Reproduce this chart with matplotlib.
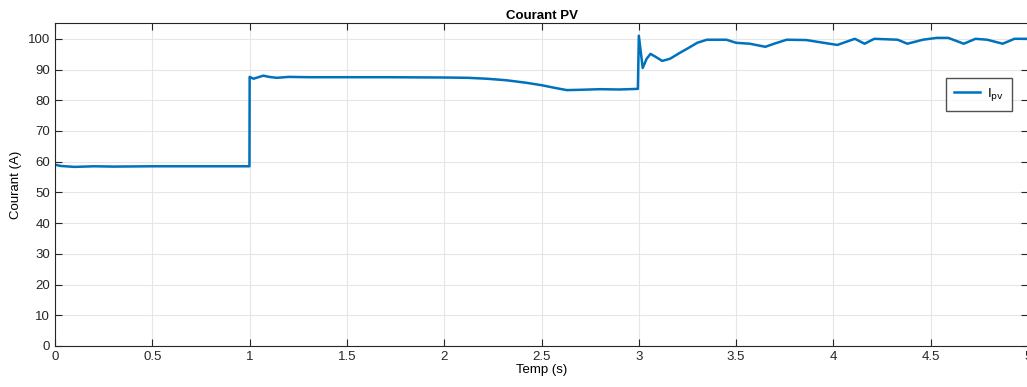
import matplotlib.pyplot as plt

plt.rcParams['font.family'] = ['Liberation Sans', 'DejaVu Sans']

# values
temps = [0, 0.03, 0.1, 0.2, 0.3, 0.5, 0.7, 0.9, 0.999,
         1.0, 1.02, 1.04, 1.07, 1.1, 1.14, 1.2, 1.3, 1.5, 1.7, 2.0, 2.12, 2.22, 2.32,
         2.42, 2.5, 2.57, 2.63, 2.7, 2.8, 2.9, 2.995,
         3.0, 3.02, 3.04, 3.06, 3.09, 3.12, 3.16, 3.21, 3.26, 3.3, 3.35, 3.45, 3.5,
         3.57, 3.65, 3.7, 3.76, 3.86, 3.93,
         4.02, 4.11, 4.16, 4.21, 4.33, 4.38, 4.46, 4.53, 4.59, 4.67, 4.73, 4.79,
         4.87, 4.93, 5.0]
courant = [59.0, 58.6, 58.3, 58.5, 58.4, 58.5, 58.5, 58.5, 58.5,
           87.6, 87.0, 87.4, 88.0, 87.6, 87.3, 87.6, 87.5, 87.5, 87.5, 87.4, 87.3, 87.0, 86.5,
           85.7, 84.9, 84.0, 83.3, 83.4, 83.6, 83.5, 83.7,
           101.0, 90.5, 93.5, 95.1, 94.0, 92.8, 93.5, 95.4, 97.2, 98.7, 99.7, 99.7, 98.7,
           98.4, 97.4, 98.5, 99.7, 99.6, 98.9,
           98.0, 100.0, 98.4, 100.0, 99.7, 98.4, 99.7, 100.3, 100.3, 98.4, 100.0, 99.7,
           98.4, 100.0, 100.0]

fig = plt.figure(figsize=(10.27, 3.87), dpi=100)
ax = fig.add_axes([0.0536, 0.106, 0.9474, 0.835])
ax.plot(temps, courant, color='#0072BD', lw=1.8, label='I$_{\\rm pv}$')
ax.set_xlim(0, 5)
ax.set_ylim(0, 105.2)
ax.set_xticks([0, 0.5, 1, 1.5, 2, 2.5, 3, 3.5, 4, 4.5, 5])
ax.set_xticklabels(['0', '0.5', '1', '1.5', '2', '2.5', '3', '3.5', '4', '4.5', '5'])
ax.set_yticks(range(0, 101, 10))
ax.grid(True, color='#e6e6e6', lw=0.8)
ax.tick_params(direction='in', top=True, right=True, labelsize=9.5, colors='#262626', length=5)
for s in ax.spines.values():
    s.set_color('#262626')
    s.set_linewidth(0.8)
ax.set_xlabel('Temp (s)', fontsize=9.5, labelpad=1)
ax.set_ylabel('Courant (A)', fontsize=9.5, labelpad=4)
ax.set_title('Courant PV', fontsize=9.5, fontweight='bold', pad=3)
ax.legend(loc='upper right', bbox_to_anchor=(0.99, 0.85), fontsize=9.5,
          fancybox=False, edgecolor='#262626', handlelength=2.0, borderpad=0.6,
          handletextpad=0.5)

fig.savefig('out.png', dpi=100)
